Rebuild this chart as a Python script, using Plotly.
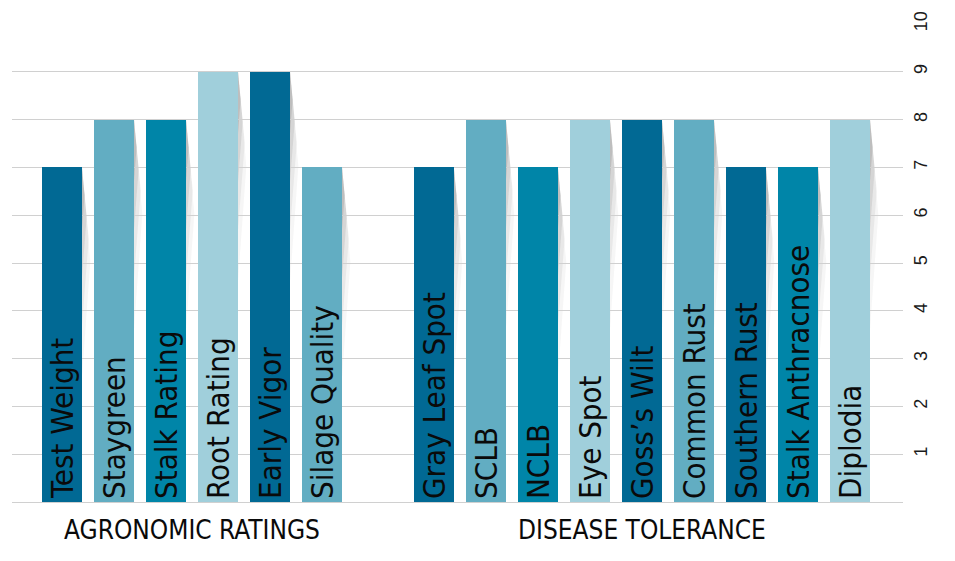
import plotly.graph_objects as go

# ---- data ----
agro_labels = ["Test Weight", "Staygreen", "Stalk Rating", "Root Rating", "Early Vigor", "Silage Quality"]
agro_values = [7, 8, 8, 9, 9, 7]
disease_labels = ["Gray Leaf Spot", "SCLB", "NCLB", "Eye Spot", "Goss’s Wilt", "Common Rust",
                  "Southern Rust", "Stalk Anthracnose", "Diplodia"]
disease_values = [7, 8, 7, 8, 8, 8, 7, 7, 8]
group_titles = ["AGRONOMIC RATINGS", "DISEASE TOLERANCE"]
y_ticks = [1, 2, 3, 4, 5, 6, 7, 8, 9, 10]

DARK, MED, TEAL, LIGHT = "#016994", "#62adc2", "#0085a8", "#a0cfdb"
agro_colors = [DARK, MED, TEAL, LIGHT, DARK, MED]
disease_colors = [DARK, MED, TEAL, LIGHT, DARK, MED, DARK, TEAL, LIGHT]

GROUP_GAP = 2.15
agro_x = list(range(len(agro_labels)))
disease_x = [len(agro_labels) - 1 + GROUP_GAP + i for i in range(len(disease_labels))]

xs = agro_x + disease_x
ys = agro_values + disease_values
labels = agro_labels + disease_labels
colors = agro_colors + disease_colors

BAR_W = 0.77
LABEL_FONT = "DejaVu Sans Condensed, Liberation Sans Narrow, sans-serif"

fig = go.Figure()
fig.add_trace(go.Bar(
    x=xs, y=ys, width=BAR_W,
    marker=dict(color=colors, line=dict(width=0)),
    text=labels, textposition="inside", insidetextanchor="start",
    textangle=-90, constraintext="none",
    textfont=dict(family=LABEL_FONT, size=31, color="#0a0a0a"),
    hoverinfo="skip",
))

# soft shadows on the right of each bar
shapes = []
layers = [(0.05, 1.3, 0.30), (0.09, 2.3, 0.20), (0.13, 3.3, 0.13), (0.16, 4.4, 0.08)]
for x, v in zip(xs, ys):
    xr = x + BAR_W / 2
    for w, b, op in layers:
        a = b * 0.45
        shapes.append(dict(
            type="path", xref="x", yref="y", layer="below",
            path=f"M {xr},{v} L {xr + w},{v - a} L {xr},{v - b} Z",
            fillcolor="#8a8a8a", opacity=op, line=dict(width=0),
        ))

annotations = []
centers = [(agro_x[0] + agro_x[-1]) / 2, (disease_x[0] + disease_x[-1]) / 2]
for cx, t in zip(centers, group_titles):
    annotations.append(dict(
        x=cx, xref="x", y=-0.024, yref="paper", yanchor="top", showarrow=False,
        text=t, font=dict(family=LABEL_FONT, size=26, color="#0a0a0a"),
    ))

fig.update_layout(
    width=955, height=561,
    margin=dict(l=12, r=52, t=24, b=59),
    paper_bgcolor="white", plot_bgcolor="white",
    showlegend=False, bargap=0,
    shapes=shapes, annotations=annotations,
    xaxis=dict(range=[-0.96, 16.17], showticklabels=False, showgrid=False,
               zeroline=False, showline=False, fixedrange=True),
    yaxis=dict(range=[0, 10], side="right", tickvals=y_ticks, tickangle=-90,
               showgrid=True, gridcolor="#d0d0d0", gridwidth=1,
               zeroline=True, zerolinecolor="#d0d0d0", zerolinewidth=1,
               showline=False, ticks="", ticklabelstandoff=5,
               tickfont=dict(family="Liberation Sans, Arial, sans-serif", size=18, color="#1a1a1a")),
)

fig.write_html("out.html")
